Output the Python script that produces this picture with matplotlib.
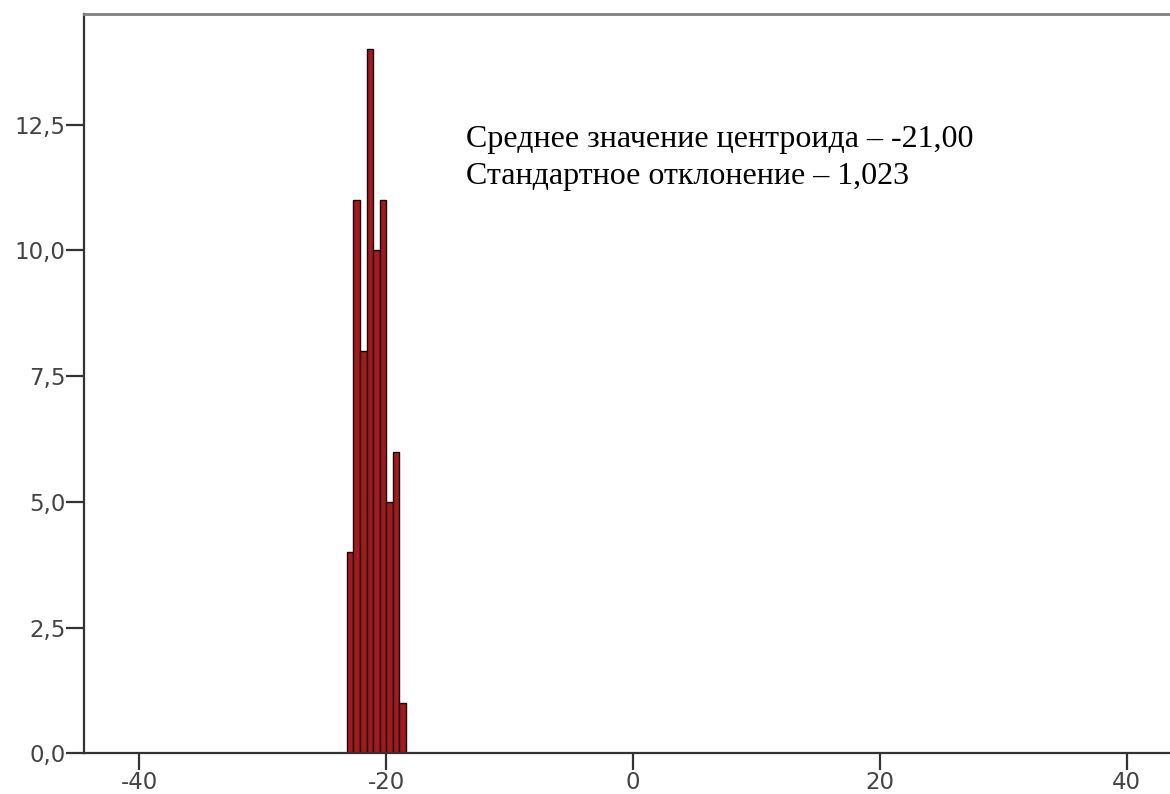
import numpy as np
import matplotlib
matplotlib.use("Agg")
import matplotlib.pyplot as plt

# histogram of centroid values
bin_edges = [-23.18, -22.65, -22.11, -21.58, -21.05, -20.51, -19.98, -19.45, -18.91, -18.38]
counts = [4, 11, 8, 14, 10, 11, 5, 6, 1]
x_ticks = [-40, -20, 0, 20, 40]
y_ticks = [0.0, 2.5, 5.0, 7.5, 10.0, 12.5]
line1 = "Среднее значение центроида – -21,00"
line2 = "Стандартное отклонение – 1,023"

fig = plt.figure(figsize=(11.7, 7.94), dpi=100)
ax = fig.add_axes([0.0714, 0.0513, 0.9286, 0.931])

edges = np.array(bin_edges)
ax.bar(edges[:-1], counts, width=np.diff(edges), align='edge',
       color='#a01a1f', edgecolor='#1a0505', linewidth=1.0)

ax.set_xlim(-44.5, 43.5)
ax.set_ylim(0, 14.7)
ax.set_xticks(x_ticks)
ax.set_xticklabels([str(t) for t in x_ticks])
ax.set_yticks(y_ticks)
ax.set_yticklabels([f"{t:.1f}".replace('.', ',') for t in y_ticks])

for s in ['left', 'bottom']:
    ax.spines[s].set_color('#333333')
    ax.spines[s].set_linewidth(1.6)
ax.spines['top'].set_color('#808080')
ax.spines['top'].set_linewidth(2.0)
ax.spines['right'].set_visible(False)

ax.tick_params(axis='x', length=12, width=1.6, color='#333333', pad=1,
               labelsize=16.5, labelcolor='#444444')
ax.tick_params(axis='y', length=13, width=1.6, color='#333333', pad=0,
               labelsize=16.5, labelcolor='#444444')

fig.text(0.398, 0.815, line1, family='Liberation Serif', fontsize=23,
         va='baseline', ha='left', color='black')
fig.text(0.398, 0.768, line2, family='Liberation Serif', fontsize=23,
         va='baseline', ha='left', color='black')

fig.savefig("out.png", dpi=100)
